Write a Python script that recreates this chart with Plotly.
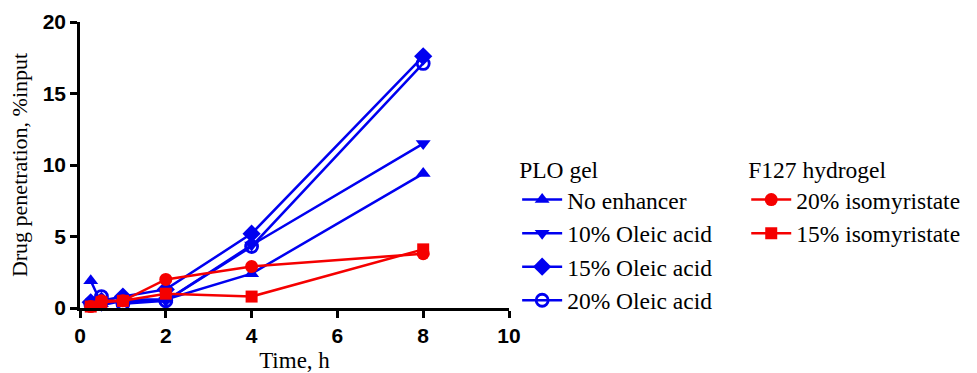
import plotly.graph_objects as go

time_h = [0.25, 0.5, 1, 2, 4, 8]

no_enhancer = [1.9, 0.3, 0.6, 0.6, 2.4, 9.4]
oleic_10 = [0.2, 0.2, 0.5, 0.5, 4.4, 11.5]
oleic_15 = [0.4, 0.5, 0.8, 1.3, 5.2, 17.6]
oleic_20 = [0.3, 0.8, 0.3, 0.5, 4.3, 17.1]
isomyr_20 = [0.1, 0.5, 0.5, 2.0, 2.9, 3.8]
isomyr_15 = [0.1, 0.4, 0.5, 1.0, 0.8, 4.1]

x_ticks = [0, 2, 4, 6, 8, 10]
y_ticks = [0, 5, 10, 15, 20]

BLUE = "#0000F0"
RED = "#F50000"

series = [
    ("No enhancer", no_enhancer, BLUE, "triangle-up", "legend", 13),
    ("10% Oleic acid", oleic_10, BLUE, "triangle-down", "legend", 13),
    ("15% Oleic acid", oleic_15, BLUE, "diamond", "legend", 14),
    ("20% Oleic acid", oleic_20, BLUE, "circle-open", "legend", 12),
    ("20% isomyristate", isomyr_20, RED, "circle", "legend2", 13),
    ("15% isomyristate", isomyr_15, RED, "square", "legend2", 12),
]

fig = go.Figure()
for i, (name, vals, col, sym, leg, sz) in enumerate(series):
    fig.add_trace(go.Scatter(
        x=time_h, y=vals, name=name, mode="lines+markers",
        line=dict(color=col, width=2.5),
        marker=dict(symbol=sym, size=sz, color=col,
                    line=dict(color=col, width=2.8 if "open" in sym else 0)),
        legend=leg, legendgroup="g%d" % i, cliponaxis=False,
    ))

serif = "Liberation Serif"
sans = "Liberation Sans"
LEG_FONT = 23.5

fig.update_layout(
    width=977, height=373,
    margin=dict(l=80, r=468, t=22, b=65, autoexpand=False),
    font=dict(family=serif, color="black"),
    plot_bgcolor="white", paper_bgcolor="white",
    showlegend=True,
    legend=dict(
        title=dict(text="PLO gel", font=dict(family=serif, size=LEG_FONT, color="black")),
        font=dict(family=serif, size=LEG_FONT, color="black"),
        x=1.019, xanchor="left", y=0.562, yanchor="top",
        tracegroupgap=0, bgcolor="rgba(0,0,0,0)", itemwidth=40,
    ),
    legend2=dict(
        title=dict(text="F127 hydrogel", font=dict(family=serif, size=LEG_FONT, color="black")),
        font=dict(family=serif, size=LEG_FONT, color="black"),
        x=1.553, xanchor="left", y=0.562, yanchor="top",
        tracegroupgap=0, bgcolor="rgba(0,0,0,0)", itemwidth=40,
    ),
    xaxis=dict(
        range=[0, 10], tickvals=x_ticks, ticktext=[str(v) for v in x_ticks],
        showgrid=False, zeroline=False, showline=True, linecolor="black", linewidth=2.5,
        ticks="outside", ticklen=7, tickwidth=2.5, tickcolor="black", automargin=False,
        tickfont=dict(family=sans, size=21, color="black", weight="bold"),
        title=dict(text="Time, h", font=dict(family=serif, size=23, color="black"), standoff=8),
    ),
    yaxis=dict(
        range=[0, 20], tickvals=y_ticks, ticktext=[str(v) for v in y_ticks],
        showgrid=False, zeroline=False, showline=True, linecolor="black", linewidth=2.5,
        ticks="outside", ticklen=7, tickwidth=2.5, tickcolor="black", automargin=False,
        tickfont=dict(family=sans, size=21, color="black", weight="bold"),
        title=dict(text="Drug penetration, %input", font=dict(family=serif, size=22, color="black"), standoff=9),
    ),
)

fig.write_html("out.html")
